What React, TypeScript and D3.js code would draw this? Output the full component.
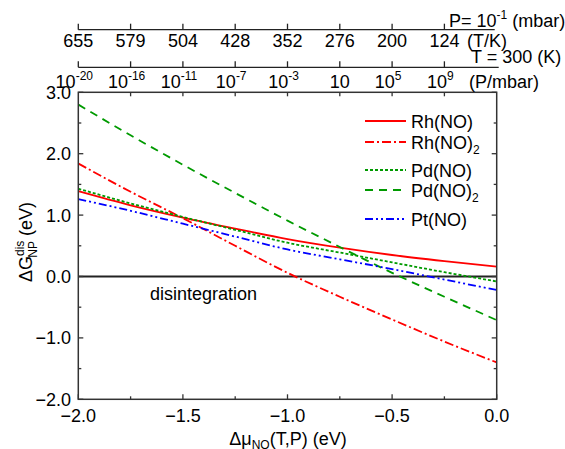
import * as d3 from "d3";

// Δμ_NO grid (eV)
const MU = [-2.0, -1.75, -1.5, -1.25, -1.0, -0.75, -0.5, -0.25, 0.0];

const rhNO = [1.39, 1.16, 0.96, 0.78, 0.61, 0.47, 0.35, 0.25, 0.16];
const rhNO2 = [1.84, 1.38, 0.95, 0.5, 0.06, -0.33, -0.7, -1.06, -1.4];
const pdNO = [1.43, 1.19, 0.97, 0.76, 0.55, 0.39, 0.23, 0.07, -0.08];
const pdNO2 = [2.8, 2.3, 1.82, 1.36, 0.91, 0.48, 0.06, -0.33, -0.71];
const ptNO = [1.26, 1.07, 0.86, 0.65, 0.44, 0.28, 0.12, -0.05, -0.22];

// top axes
const topTicks = [-2.0, -1.75, -1.5, -1.25, -1.0, -0.75, -0.5, -0.25];
const tempLabels = ["655", "579", "504", "428", "352", "276", "200", "124"];
const presExp = ["-20", "-16", "-11", "-7", "-3", "", "5", "9"];

const series = [
  { name: "Rh(NO)", sub: "", vals: rhNO, color: "#ff0000", dash: "" },
  { name: "Rh(NO)", sub: "2", vals: rhNO2, color: "#ff0000", dash: "9,3,2,3" },
  { name: "Pd(NO)", sub: "", vals: pdNO, color: "#009a00", dash: "3,2" },
  { name: "Pd(NO)", sub: "2", vals: pdNO2, color: "#009a00", dash: "8,6" },
  { name: "Pt(NO)", sub: "", vals: ptNO, color: "#0000ff", dash: "8,3,2,3,2,3" },
];

const W = 565;
const H = 449;
const FONT = "Liberation Sans, Arial, sans-serif";

export default function App() {
  const x = d3.scaleLinear().domain([-2, 0]).range([78.3, 496.7]);
  const y = d3.scaleLinear().domain([-2, 3]).range([399.3, 92.3]);
  const [x0, x1] = x.range();
  const [y0, y1] = [y(3), y(-2)];

  const line = d3
    .line<number>()
    .x((_, i) => x(MU[i]))
    .y((d) => y(d))
    .curve(d3.curveMonotoneX);

  const xMajor = d3.range(-2, 0.01, 0.5);
  const xMinor = d3.range(-1.75, 0, 0.5);
  const yMajor = d3.range(-2, 3.01, 1);
  const yMinor = d3.range(-1.5, 3, 1);
  const fmt = d3.format(".1f");

  const legendY = [121, 142, 170, 190, 219];
  const axisT = 29.7;
  const axisP = 67.3;
  const fs = 18;
  const ss = 12;

  return (
    <svg
      width={W}
      height={H}
      style={{ position: "absolute", left: 0, top: 0, background: "#fff" }}
      fontFamily={FONT}
    >
      <defs>
        <clipPath id="plot">
          <rect x={x0} y={y0} width={x1 - x0} height={y1 - y0} />
        </clipPath>
      </defs>
      <line x1={x0} x2={x1} y1={y(0)} y2={y(0)} stroke="#222" strokeWidth={2} />
      <g clipPath="url(#plot)">
        {series.map((s, i) => (
          <path
            key={i}
            d={line(s.vals) || ""}
            fill="none"
            stroke={s.color}
            strokeWidth={1.8}
            strokeDasharray={s.dash || undefined}
          />
        ))}
      </g>
      <text x={150} y={y(0) + 23} fontSize={fs} fill="#000">
        disintegration
      </text>

      {/* frame */}
      <rect x={x0} y={y0} width={x1 - x0} height={y1 - y0} fill="none" stroke="#333" strokeWidth={1.5} />
      {xMajor.map((v) => (
        <line key={"xb" + v} x1={x(v)} x2={x(v)} y1={y1} y2={y1 - 5} stroke="#333" strokeWidth={1.3} />
      ))}
      {xMinor.map((v) => (
        <line key={"xm" + v} x1={x(v)} x2={x(v)} y1={y1} y2={y1 - 3} stroke="#333" strokeWidth={1.3} />
      ))}
      {topTicks.slice(1).map((v) => (
        <line key={"xt" + v} x1={x(v)} x2={x(v)} y1={y0} y2={y0 + 4} stroke="#333" strokeWidth={1.3} />
      ))}
      {yMajor.map((v) => (
        <g key={"ym" + v}>
          <line x1={x0} x2={x0 + 5} y1={y(v)} y2={y(v)} stroke="#333" strokeWidth={1.3} />
          <line x1={x1} x2={x1 - 5} y1={y(v)} y2={y(v)} stroke="#333" strokeWidth={1.3} />
        </g>
      ))}
      {yMinor.map((v) => (
        <g key={"yn" + v}>
          <line x1={x0} x2={x0 + 3} y1={y(v)} y2={y(v)} stroke="#333" strokeWidth={1.3} />
          <line x1={x1} x2={x1 - 3} y1={y(v)} y2={y(v)} stroke="#333" strokeWidth={1.3} />
        </g>
      ))}
      {xMajor.map((v) => (
        <text key={"xl" + v} x={x(v)} y={422} fontSize={fs} textAnchor="middle" fill="#000">
          {fmt(v).replace("-0.0", "0.0")}
        </text>
      ))}
      {yMajor.map((v) => (
        <text key={"yl" + v} x={71} y={y(v) + 6.5} fontSize={fs} textAnchor="end" fill="#000">
          {fmt(v)}
        </text>
      ))}

      {/* axis titles */}
      <text x={288} y={445} fontSize={fs} textAnchor="middle" fill="#000">
        Δμ<tspan fontSize={ss} dy={4}>NO</tspan>
        <tspan dy={-4}>(T,P) (eV)</tspan>
      </text>
      <text transform="translate(32,242) rotate(-90)" fontSize={fs} textAnchor="middle" fill="#000">
        ΔG<tspan fontSize={ss} dy={-8}>dis</tspan>
        <tspan fontSize={ss} dx={-17} dy={13}>NP</tspan>
        <tspan dy={-5}> (eV)</tspan>
      </text>

      {/* top axis: temperature at P = 0.1 mbar */}
      <line x1={x(-2)} x2={x(0) - 2} y1={axisT} y2={axisT} stroke="#222" strokeWidth={1.3} />
      {topTicks.map((v, i) => (
        <g key={"tt" + i}>
          <line x1={x(v)} x2={x(v)} y1={axisT} y2={axisT - 6} stroke="#222" strokeWidth={1.3} />
          <text x={x(v)} y={47} fontSize={fs} textAnchor="middle" fill="#000">
            {tempLabels[i]}
          </text>
        </g>
      ))}
      <text x={449} y={27} fontSize={fs} fill="#000">
        P= 10<tspan fontSize={ss} dy={-8}>-1</tspan>
        <tspan dy={8}> (mbar)</tspan>
      </text>
      <text x={467} y={47} fontSize={fs} fill="#000">
        (T/K)
      </text>

      {/* top axis: pressure at T = 300 K */}
      <line x1={x(-2)} x2={x(0) + 2} y1={axisP} y2={axisP} stroke="#222" strokeWidth={1.3} />
      {topTicks.map((v, i) => (
        <g key={"tp" + i}>
          <line x1={x(v)} x2={x(v)} y1={axisP} y2={axisP - 6} stroke="#222" strokeWidth={1.3} />
          <text x={x(v) + (presExp[i] ? -4 : 0)} y={88} fontSize={fs} textAnchor="middle" fill="#000">
            10
            {presExp[i] && (
              <tspan fontSize={ss} dy={-8}>
                {presExp[i]}
              </tspan>
            )}
          </text>
        </g>
      ))}
      <text x={471} y={63} fontSize={fs} fill="#000">
        T = 300 (K)
      </text>
      <text x={469} y={88} fontSize={fs} fill="#000">
        (P/mbar)
      </text>

      {/* legend */}
      {series.map((s, i) => (
        <g key={"lg" + i}>
          <line
            x1={365}
            x2={406}
            y1={legendY[i]}
            y2={legendY[i]}
            stroke={s.color}
            strokeWidth={1.8}
            strokeDasharray={s.dash || undefined}
          />
          <text x={411} y={legendY[i] + 6.5} fontSize={fs} fill="#000">
            {s.name}
            {s.sub && (
              <tspan fontSize={ss} dy={5}>
                {s.sub}
              </tspan>
            )}
          </text>
        </g>
      ))}
    </svg>
  );
}
